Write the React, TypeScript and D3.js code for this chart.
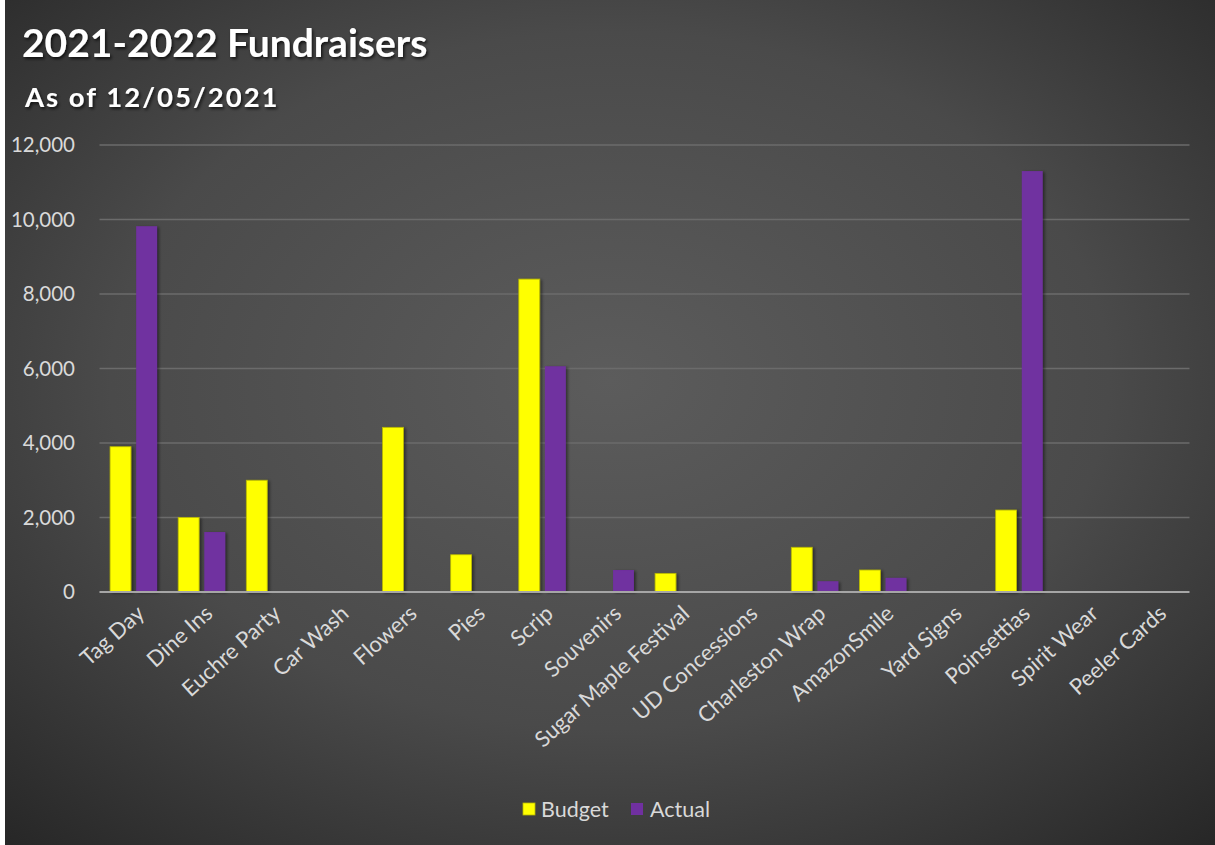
import React from "react";
import * as d3 from "d3";

const categories = [
  "Tag Day", "Dine Ins", "Euchre Party", "Car Wash", "Flowers", "Pies", "Scrip",
  "Souvenirs", "Sugar Maple Festival", "UD Concessions", "Charleston Wrap",
  "AmazonSmile", "Yard Signs", "Poinsettias", "Spirit Wear", "Peeler Cards",
];
const budget = [3900, 2000, 3000, 0, 4420, 1000, 8400, 0, 500, 0, 1200, 590, 0, 2200, 0, 0];
const actual = [9820, 1610, 0, 0, 0, 0, 6060, 590, 0, 0, 290, 380, 0, 11300, 0, 0];
const yTicks = [0, 2000, 4000, 6000, 8000, 10000, 12000];
const seriesNames = ["Budget", "Actual"];
const seriesColors = ["#FFFF00", "#7030A0"];

const W = 1215;
const H = 845;
const FONT = "Lato, 'Open Sans', sans-serif";

export default function App() {
  const x0 = d3.scaleBand<string>().domain(categories).range([99.5, 1189.5]).paddingInner(0.31).paddingOuter(0.155);
  const x1 = d3.scaleBand<string>().domain(seriesNames).range([0, x0.bandwidth()]).paddingInner(0.2);
  const y = d3.scaleLinear().domain([0, 12000]).range([592, 145]);
  const fmt = d3.format(",");
  const seriesData = [budget, actual];

  return (
    <svg width={W} height={H} style={{ position: "absolute", left: 0, top: 0 }} fontFamily={FONT}>
      <defs>
        <radialGradient id="bg" cx="0.5" cy="0.45" r="0.75" fx="0.5" fy="0.45">
          <stop offset="0" stopColor="#5c5c5c" />
          <stop offset="0.55" stopColor="#4a4a4a" />
          <stop offset="1" stopColor="#262626" />
        </radialGradient>
        <filter id="barShadow" x="-30%" y="-10%" width="160%" height="120%">
          <feDropShadow dx="2" dy="1" stdDeviation="1.8" floodColor="#000" floodOpacity="0.45" />
        </filter>
        <filter id="textShadow" x="-5%" y="-20%" width="110%" height="150%">
          <feDropShadow dx="1.5" dy="2" stdDeviation="1.5" floodColor="#000" floodOpacity="0.7" />
        </filter>
      </defs>
      <rect x={0} y={0} width={W} height={H} fill="#ffffff" />
      <rect x={5} y={0} width={W - 5} height={H} fill="url(#bg)" />

      <text x={22} y={57} fill="#ffffff" fontSize={39} fontWeight={700} filter="url(#textShadow)">
        2021-2022 Fundraisers
      </text>
      <text x={25} y={107} fill="#ffffff" fontSize={27.5} fontWeight={700} letterSpacing={2} filter="url(#textShadow)">
        As of 12/05/2021
      </text>

      {/* gridlines */}
      {yTicks.filter((t) => t !== 0).map((t) => (
        <line key={t} x1={99.5} x2={1189.5} y1={y(t)} y2={y(t)} stroke="#6b6b6b" strokeWidth={1.5} />
      ))}
      {/* y tick labels */}
      {yTicks.map((t) => (
        <text key={t} x={75} y={y(t)} dy="0.36em" textAnchor="end" fill="#d9d9d9" fontSize={20.5}>
          {fmt(t)}
        </text>
      ))}

      {/* bars */}
      {categories.map((c, i) => (
        <g key={c} transform={`translate(${x0(c)},0)`}>
          {seriesNames.map((s, k) => {
            const v = seriesData[k][i];
            if (!v) return null;
            return (
              <rect
                key={s}
                x={x1(s)}
                y={y(v)}
                width={x1.bandwidth()}
                height={y(0) - y(v)}
                fill={seriesColors[k]}
                stroke={k === 0 ? "#b8b800" : "none"}
                strokeWidth={0.8}
                filter="url(#barShadow)"
              />
            );
          })}
        </g>
      ))}

      {/* baseline */}
      <line x1={99.5} x2={1189.5} y1={y(0)} y2={y(0)} stroke="#a6a6a6" strokeWidth={2} />

      {/* category labels */}
      {categories.map((c) => {
        const cx = (x0(c) as number) + x0.bandwidth() / 2;
        return (
          <text
            key={c}
            transform={`translate(${cx + 2},${604}) rotate(-42)`}
            textAnchor="end"
            dy="0.7em"
            fill="#d9d9d9"
            fontSize={22}
          >
            {c}
          </text>
        );
      })}

      {/* legend */}
      <g>
        <rect x={523} y={803} width={12} height={12} fill={seriesColors[0]} stroke="#b8b800" strokeWidth={0.8} />
        <text x={541} y={809} dy="0.36em" fill="#d9d9d9" fontSize={21.5}>Budget</text>
        <rect x={631} y={803} width={12} height={12} fill={seriesColors[1]} />
        <text x={650} y={809} dy="0.36em" fill="#d9d9d9" fontSize={21.5}>Actual</text>
      </g>
    </svg>
  );
}
